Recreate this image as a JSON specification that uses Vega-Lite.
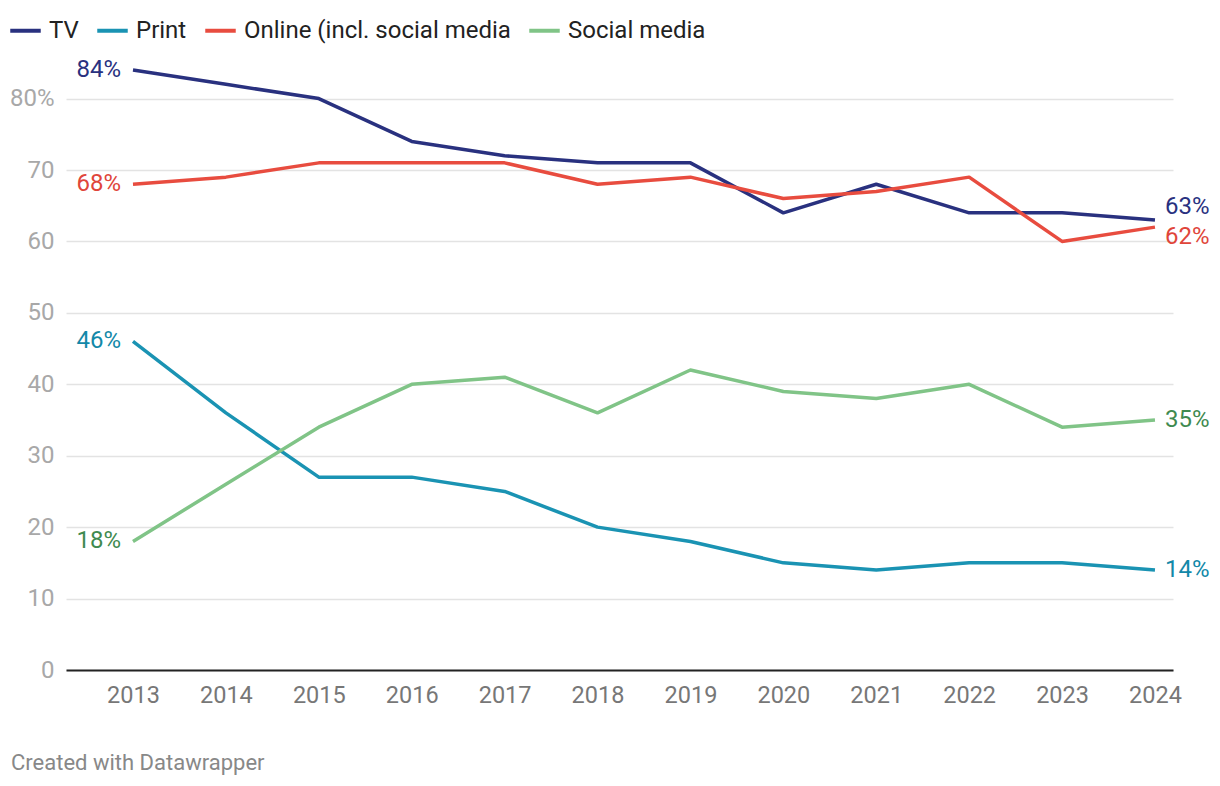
{
  "$schema": "https://vega.github.io/schema/vega-lite/v6.json",
  "autosize": {"type": "none"},
  "width": 1107,
  "height": 600,
  "padding": {"left": 66, "top": 70, "right": 47, "bottom": 116},
  "background": "white",
  "config": {
    "font": "Roboto",
    "view": {"stroke": null}
  },
  "title": {
    "text": "Created with Datawrapper",
    "orient": "bottom",
    "anchor": "start",
    "frame": "group",
    "dx": -55,
    "offset": 46,
    "font": "Roboto",
    "fontSize": 22,
    "fontWeight": "normal",
    "color": "#888888"
  },
  "data": {
    "values": [
      {"year": 2013, "series": "TV", "value": 84},
      {"year": 2014, "series": "TV", "value": 82},
      {"year": 2015, "series": "TV", "value": 80},
      {"year": 2016, "series": "TV", "value": 74},
      {"year": 2017, "series": "TV", "value": 72},
      {"year": 2018, "series": "TV", "value": 71},
      {"year": 2019, "series": "TV", "value": 71},
      {"year": 2020, "series": "TV", "value": 64},
      {"year": 2021, "series": "TV", "value": 68},
      {"year": 2022, "series": "TV", "value": 64},
      {"year": 2023, "series": "TV", "value": 64},
      {"year": 2024, "series": "TV", "value": 63},
      {"year": 2013, "series": "Print", "value": 46},
      {"year": 2014, "series": "Print", "value": 36},
      {"year": 2015, "series": "Print", "value": 27},
      {"year": 2016, "series": "Print", "value": 27},
      {"year": 2017, "series": "Print", "value": 25},
      {"year": 2018, "series": "Print", "value": 20},
      {"year": 2019, "series": "Print", "value": 18},
      {"year": 2020, "series": "Print", "value": 15},
      {"year": 2021, "series": "Print", "value": 14},
      {"year": 2022, "series": "Print", "value": 15},
      {"year": 2023, "series": "Print", "value": 15},
      {"year": 2024, "series": "Print", "value": 14},
      {"year": 2013, "series": "Online (incl. social media", "value": 68},
      {"year": 2014, "series": "Online (incl. social media", "value": 69},
      {"year": 2015, "series": "Online (incl. social media", "value": 71},
      {"year": 2016, "series": "Online (incl. social media", "value": 71},
      {"year": 2017, "series": "Online (incl. social media", "value": 71},
      {"year": 2018, "series": "Online (incl. social media", "value": 68},
      {"year": 2019, "series": "Online (incl. social media", "value": 69},
      {"year": 2020, "series": "Online (incl. social media", "value": 66},
      {"year": 2021, "series": "Online (incl. social media", "value": 67},
      {"year": 2022, "series": "Online (incl. social media", "value": 69},
      {"year": 2023, "series": "Online (incl. social media", "value": 60},
      {"year": 2024, "series": "Online (incl. social media", "value": 62},
      {"year": 2013, "series": "Social media", "value": 18},
      {"year": 2014, "series": "Social media", "value": 26},
      {"year": 2015, "series": "Social media", "value": 34},
      {"year": 2016, "series": "Social media", "value": 40},
      {"year": 2017, "series": "Social media", "value": 41},
      {"year": 2018, "series": "Social media", "value": 36},
      {"year": 2019, "series": "Social media", "value": 42},
      {"year": 2020, "series": "Social media", "value": 39},
      {"year": 2021, "series": "Social media", "value": 38},
      {"year": 2022, "series": "Social media", "value": 40},
      {"year": 2023, "series": "Social media", "value": 34},
      {"year": 2024, "series": "Social media", "value": 35}
    ]
  },
  "encoding": {
    "x": {
      "field": "year",
      "type": "quantitative",
      "scale": {"domain": [2012.279, 2024.194], "nice": false, "zero": false},
      "axis": {
        "values": [2013, 2014, 2015, 2016, 2017, 2018, 2019, 2020, 2021, 2022, 2023, 2024],
        "format": "d",
        "title": null,
        "grid": false,
        "ticks": false,
        "domain": true,
        "domainColor": "#222222",
        "domainWidth": 2,
        "labelFont": "Roboto",
        "labelFontSize": 23.5,
        "labelColor": "#777777",
        "labelPadding": 13,
        "labelFlush": false
      }
    },
    "y": {
      "field": "value",
      "type": "quantitative",
      "scale": {"domain": [0, 84], "nice": false},
      "axis": {
        "values": [0, 10, 20, 30, 40, 50, 60, 70, 80],
        "labelExpr": "datum.value == 80 ? '80%' : datum.label",
        "title": null,
        "domain": false,
        "ticks": false,
        "grid": true,
        "gridColor": "#e3e3e3",
        "gridWidth": 1.5,
        "labelFont": "Roboto",
        "labelFontSize": 24,
        "labelColor": "#a8a8a8",
        "labelPadding": 12
      }
    }
  },
  "layer": [
    {
      "mark": {"type": "line", "strokeWidth": 3.5, "interpolate": "linear", "strokeJoin": "round"},
      "encoding": {
        "color": {
          "field": "series",
          "type": "nominal",
          "scale": {
            "domain": ["TV", "Print", "Online (incl. social media", "Social media"],
            "range": ["#29317f", "#1a93b3", "#e84c3f", "#80c487"]
          },
          "legend": {
            "title": null,
            "orient": "none",
            "legendX": -58,
            "legendY": -57,
            "direction": "horizontal",
            "symbolType": "stroke",
            "symbolSize": 930,
            "symbolStrokeWidth": 4,
            "labelFont": "Roboto",
            "labelFontSize": 24,
            "labelColor": "#222222",
            "labelLimit": 400,
            "labelOffset": 6,
            "columnPadding": 10
          }
        }
      }
    },
    {
      "transform": [
        {"filter": "datum.year == 2013"},
        {"calculate": "datum.value + '%'", "as": "lab"}
      ],
      "mark": {"type": "text", "align": "right", "baseline": "middle", "dx": -12, "font": "Roboto", "fontSize": 24},
      "encoding": {
        "text": {"field": "lab"},
        "color": {
          "field": "series",
          "type": "nominal",
          "scale": {
            "domain": ["TV", "Print", "Online (incl. social media", "Social media"],
            "range": ["#29317f", "#1288a8", "#e0453a", "#3f8a50"]
          },
          "legend": null
        }
      }
    },
    {
      "transform": [
        {"filter": "datum.year == 2024 && (datum.series == 'Print' || datum.series == 'Social media')"},
        {"calculate": "datum.value + '%'", "as": "lab"}
      ],
      "mark": {"type": "text", "align": "left", "baseline": "middle", "dx": 10, "font": "Roboto", "fontSize": 24},
      "encoding": {
        "text": {"field": "lab"},
        "color": {
          "field": "series",
          "type": "nominal",
          "scale": {
            "domain": ["TV", "Print", "Online (incl. social media", "Social media"],
            "range": ["#29317f", "#1288a8", "#e0453a", "#3f8a50"]
          },
          "legend": null
        }
      }
    },
    {
      "transform": [
        {"filter": "datum.year == 2024 && datum.series == 'TV'"},
        {"calculate": "datum.value + '%'", "as": "lab"}
      ],
      "mark": {"type": "text", "align": "left", "baseline": "middle", "dx": 10, "dy": -13, "font": "Roboto", "fontSize": 24},
      "encoding": {
        "text": {"field": "lab"},
        "color": {
          "field": "series",
          "type": "nominal",
          "scale": {
            "domain": ["TV", "Print", "Online (incl. social media", "Social media"],
            "range": ["#29317f", "#1288a8", "#e0453a", "#3f8a50"]
          },
          "legend": null
        }
      }
    },
    {
      "transform": [
        {"filter": "datum.year == 2024 && datum.series == 'Online (incl. social media'"},
        {"calculate": "datum.value + '%'", "as": "lab"}
      ],
      "mark": {"type": "text", "align": "left", "baseline": "middle", "dx": 10, "dy": 10, "font": "Roboto", "fontSize": 24},
      "encoding": {
        "text": {"field": "lab"},
        "color": {
          "field": "series",
          "type": "nominal",
          "scale": {
            "domain": ["TV", "Print", "Online (incl. social media", "Social media"],
            "range": ["#29317f", "#1288a8", "#e0453a", "#3f8a50"]
          },
          "legend": null
        }
      }
    }
  ],
  "resolve": {"scale": {"color": "independent"}}
}
